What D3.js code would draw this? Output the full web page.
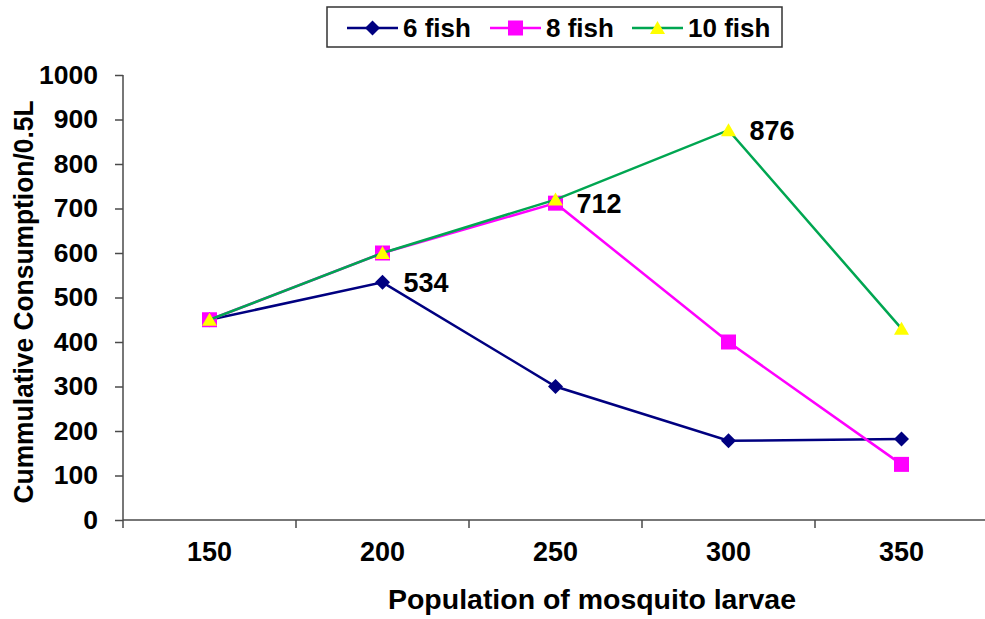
<!DOCTYPE html>
<html><head><meta charset="utf-8">
<script src="https://cdn.jsdelivr.net/npm/d3@7"></script>
<style>body{margin:0;background:#fff}svg{display:block;font-family:"Liberation Sans",Arial,sans-serif;font-weight:bold}</style>
</head><body><svg id="c" width="985" height="619"></svg>
<script>
const categories = ["150","200","250","300","350"];
const sixFish = [450, 534, 300, 178, 182];
const eightFish = [450, 600, 712, 400, 125];
const tenFish = [450, 600, 720, 876, 430];
const yTicks = [0,100,200,300,400,500,600,700,800,900,1000];
const seriesNames = ["6 fish","8 fish","10 fish"];
const annotations = [
  {series:0, index:1, text:"534"},
  {series:1, index:2, text:"712"},
  {series:2, index:3, text:"876"}
];

const svg = d3.select("#c");
const x = d3.scaleBand().domain(categories).range([123, 988]);
const y = d3.scaleLinear().domain([0,1000]).range([520, 75]);
const axisColor = "#4a4a4a";

// y axis
const ya = svg.append("g").attr("transform","translate(123,0)")
  .call(d3.axisLeft(y).tickValues(yTicks).tickFormat(d3.format("d")).tickSize(8).tickPadding(17));
ya.select(".domain").attr("stroke",axisColor).attr("stroke-width",1.5).attr("d","M0,75V520");
ya.selectAll(".tick line").attr("stroke",axisColor).attr("stroke-width",1.5);
ya.selectAll(".tick text").attr("font-size",26.5).attr("font-weight","bold").attr("fill","#000")
  .attr("font-family","'Liberation Sans',Arial,sans-serif");

// x axis
const xa = svg.append("g").attr("transform","translate(0,520)")
  .call(d3.axisBottom(x).tickSize(0).tickPadding(0));
xa.select(".domain").attr("stroke",axisColor).attr("stroke-width",1.5).attr("d","M123,0H988");
xa.selectAll(".tick text").attr("font-size",27).attr("font-weight","bold").attr("fill","#000")
  .attr("font-family","'Liberation Sans',Arial,sans-serif").attr("dy",null).attr("y",41);
// boundary tick marks
const bounds = categories.map(c => x(c)).concat([x(categories[categories.length-1]) + x.bandwidth()]);
svg.append("g").selectAll("line").data(bounds).join("line")
  .attr("x1",d=>d).attr("x2",d=>d).attr("y1",520).attr("y2",528)
  .attr("stroke",axisColor).attr("stroke-width",1.5);

// titles
svg.append("text").attr("x",592).attr("y",609).attr("text-anchor","middle")
  .attr("font-size",28).attr("textLength",408).attr("lengthAdjust","spacingAndGlyphs")
  .text("Population of mosquito larvae");
svg.append("text").attr("transform","translate(33,302) rotate(-90)").attr("text-anchor","middle")
  .attr("font-size",28).attr("textLength",403).attr("lengthAdjust","spacingAndGlyphs")
  .text("Cummulative Consumption/0.5L");

const data = [sixFish, eightFish, tenFish];
const colors = ["#000080","#FF00FF","#00A651"];
const markerFill = ["#000080","#FF00FF","#FFFF00"];
const cx = c => x(c) + x.bandwidth()/2;

function marker(g, s, px, py){
  if (s===0) g.append("path").attr("d",`M${px},${py-7.5}L${px+7.5},${py}L${px},${py+7.5}L${px-7.5},${py}Z`).attr("fill",markerFill[0]);
  else if (s===1) g.append("rect").attr("x",px-7.5).attr("y",py-7.5).attr("width",15).attr("height",15).attr("fill",markerFill[1]);
  else g.append("path").attr("d",`M${px},${py-7}L${px+7.5},${py+6}L${px-7.5},${py+6}Z`).attr("fill",markerFill[2]);
}

const line = d3.line().x((d,i)=>cx(categories[i])).y(d=>y(d));
data.forEach((vals,s)=>{
  const g = svg.append("g");
  g.append("path").datum(vals).attr("d",line).attr("fill","none").attr("stroke",colors[s]).attr("stroke-width",2.5);
  vals.forEach((v,i)=>marker(g,s,cx(categories[i]),y(v)));
});

annotations.forEach(a=>{
  svg.append("text").attr("x",cx(categories[a.index])+21).attr("y",y(data[a.series][a.index])+10)
    .attr("font-size",27).text(a.text);
});

// legend
const lg = svg.append("g");
lg.append("rect").attr("x",327).attr("y",7).attr("width",455).attr("height",40)
  .attr("fill","#fff").attr("stroke","#333").attr("stroke-width",1.5);
const legX = [347, 490, 632];
seriesNames.forEach((n,s)=>{
  lg.append("line").attr("x1",legX[s]).attr("x2",legX[s]+51).attr("y1",28).attr("y2",28)
    .attr("stroke",colors[s]).attr("stroke-width",2.5);
  marker(lg,s,legX[s]+25.5,28);
  lg.append("text").attr("x",legX[s]+56).attr("y",37).attr("font-size",26).text(n);
});
</script></body></html>
